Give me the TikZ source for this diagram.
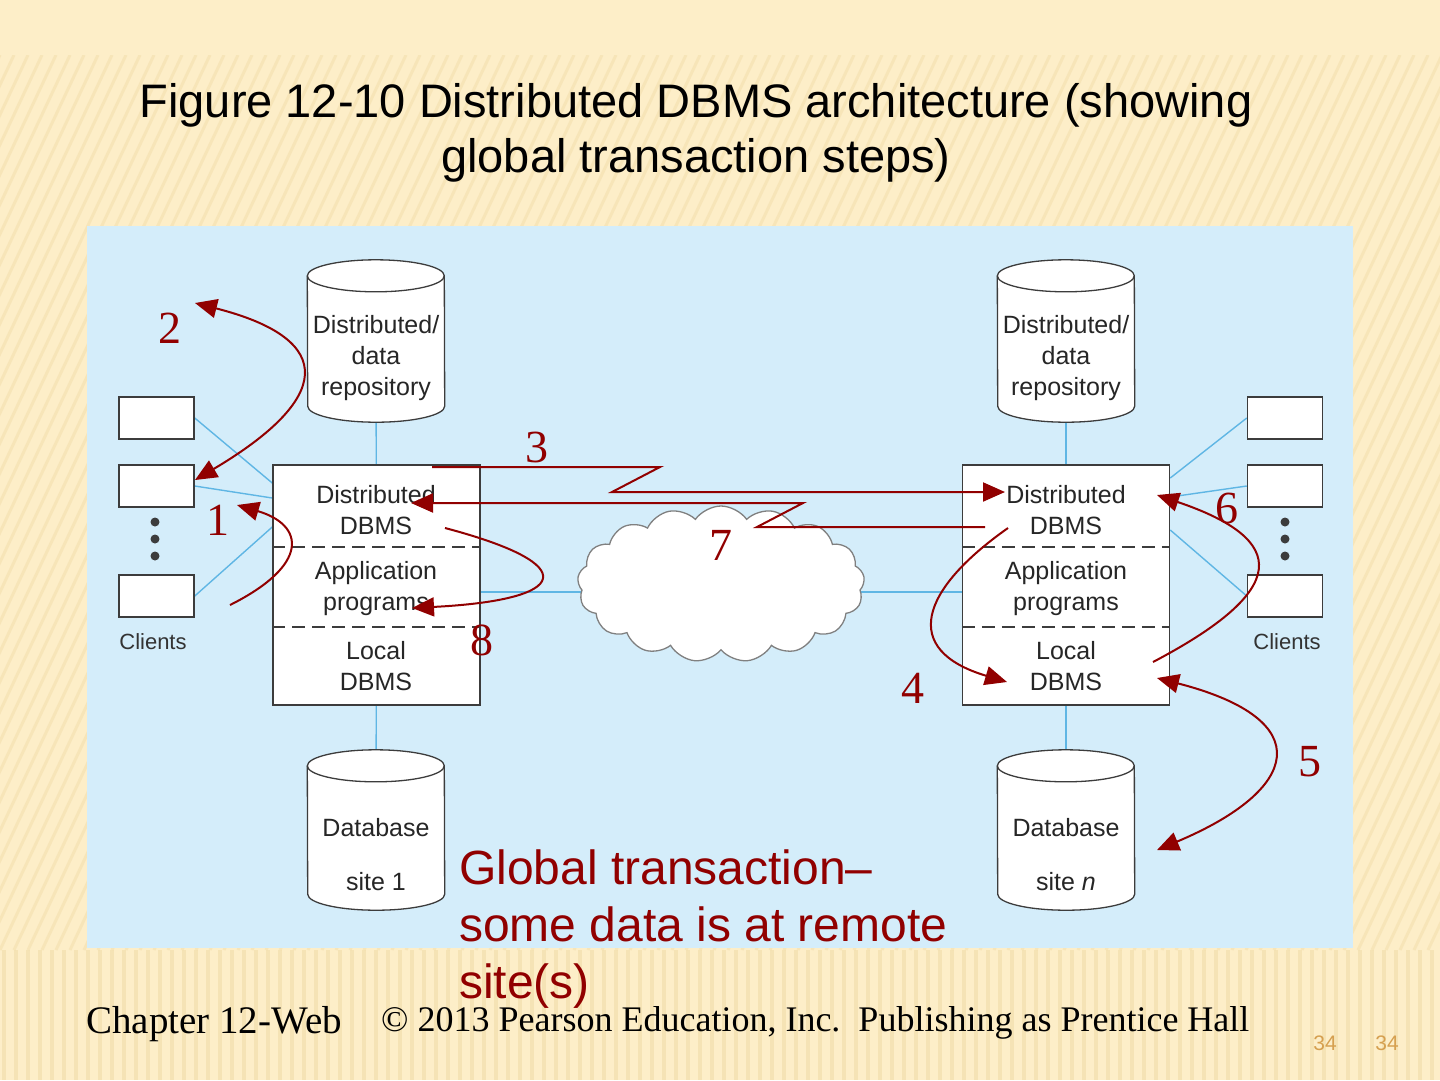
\documentclass[tikz,border=0pt]{standalone}
\usepackage{fontspec}
\setmainfont{Liberation Sans}
\newfontfamily\serifnum{Liberation Serif}
\usetikzlibrary{shapes.symbols,arrows.meta}

\definecolor{panelblue}{RGB}{212,237,250}
\definecolor{linkblue}{RGB}{95,182,228}
\definecolor{stepred}{RGB}{145,0,0}
\definecolor{slidebeige}{RGB}{253,238,200}
\definecolor{stripebeige}{RGB}{240,219,166}
\definecolor{pagenum}{RGB}{214,160,80}
\definecolor{boxgray}{RGB}{60,60,60}

\pgfdeclarelayer{paper}
\pgfdeclarelayer{back}
\pgfsetlayers{paper,back,main}

% a storage drum drawn over the frame of a named node
\newcommand{\drawdrum}[1]{%
  \filldraw[boxgray, fill=white, line width=1.3pt]
    ([yshift=-16pt]#1.north west) arc[start angle=180, end angle=0, x radius=68.5pt, y radius=16pt]
    -- ([yshift=16pt]#1.south east) arc[start angle=0, end angle=-180, x radius=68.5pt, y radius=16pt] -- cycle;
  \draw[boxgray, line width=1.3pt]
    ([yshift=-16pt]#1.north west) arc[start angle=180, end angle=360, x radius=68.5pt, y radius=16pt];
}

\tikzset{
  clientbox/.style={draw=boxgray, fill=white, line width=1.5pt, minimum width=75pt, minimum height=42pt, inner sep=0},
  sitebox/.style={draw=boxgray, fill=white, line width=1.5pt, minimum width=207pt, minimum height=240pt, inner sep=0},
  store/.style={minimum width=137pt, minimum height=#1, inner sep=0},
  layer/.style={align=center, inner sep=0, text=black!85, font=\fontsize{25}{31}\selectfont},
  split/.style={boxgray, line width=1.5pt, dash pattern=on 13pt off 7pt},
  link/.style={linkblue, line width=1.4pt},
  stepline/.style={stepred, line width=2pt, -{Triangle[length=22pt,width=19pt]}},
  steplabel/.style={text=stepred, inner sep=0, font=\serifnum\fontsize{46}{46}\selectfont},
}

\begin{document}
\begin{tikzpicture}[x=1pt, y=-1pt]
\useasboundingbox (0,0) rectangle (1440,1080);

% slide background
\begin{pgfonlayer}{paper}
  \fill[slidebeige] (0,0) rectangle (1440,1080);
  \begin{scope}
    \clip (0,55) rectangle (1440,950);
    \foreach \x in {0,14,...,1900}
      \draw[stripebeige, line width=3pt, opacity=0.45] (\x,55) -- (\x-420,950);
  \end{scope}
  \foreach \x in {4,16,...,1440}
    \draw[stripebeige, line width=4pt, opacity=0.55] (\x,950) -- (\x,1080);
  \fill[panelblue] (87,226) rectangle (1353,948);
\end{pgfonlayer}

% title
\node[align=center, inner sep=0, font=\fontsize{47}{55}\selectfont] (title) at (696,133)
  {Figure 12-10 Distributed DBMS architecture (showing\\global transaction steps)};

% site 1
\node[store=162pt] (ddrL) at (376,341) {};
\drawdrum{ddrL}
\node[layer] (ddrLt) at (376,358) {Distributed/\\data\\repository};
\node[sitebox] (boxL) at (376.5,585) {};
\node[store=160pt] (dbL) at (376,830) {};
\drawdrum{dbL}
\node[layer] (dbLt) at (376,855) {Database\\[23pt]site 1};
\draw[split] (boxL.west |- 0,547) -- (boxL.east |- 0,547);
\draw[split] (boxL.west |- 0,627) -- (boxL.east |- 0,627);
\node[layer] (dL) at (376,510) {Distributed\\DBMS};
\node[layer] (aL) at (376,589) {Application\\programs};
\node[layer] (lL) at (376,666) {Local\\DBMS};

% site n
\node[store=162pt] (ddrR) at (1066,341) {};
\drawdrum{ddrR}
\node[layer] (ddrRt) at (1066,358) {Distributed/\\data\\repository};
\node[sitebox] (boxR) at (1066,585) {};
\node[store=160pt] (dbR) at (1066,830) {};
\drawdrum{dbR}
\node[layer] (dbRt) at (1066,855) {Database\\[23pt]site \textit{n}};
\draw[split] (boxR.west |- 0,547) -- (boxR.east |- 0,547);
\draw[split] (boxR.west |- 0,627) -- (boxR.east |- 0,627);
\node[layer] (dR) at (1066,510) {Distributed\\DBMS};
\node[layer] (aR) at (1066,589) {Application\\programs};
\node[layer] (lR) at (1066,666) {Local\\DBMS};

% network
\node[cloud, cloud puffs=17, cloud puff arc=110, aspect=1.9, draw=gray, fill=white, line width=1.3pt,
  minimum width=287pt, minimum height=156pt] (net) at (721,584) {};

% clients
\node[clientbox] (cL1) at (156.5,418) {};
\node[clientbox] (cL2) at (156.5,486) {};
\node[clientbox] (cL3) at (156.5,596) {};
\node[clientbox] (cR1) at (1285,418) {};
\node[clientbox] (cR2) at (1285,486) {};
\node[clientbox] (cR3) at (1285,596) {};
\foreach \y in {522,539,556} {
  \fill[boxgray] (155,\y) circle (4.5);
  \fill[boxgray] (1285,\y) circle (4.5);
}
\node[inner sep=0, text=black!80, font=\fontsize{22}{22}\selectfont] (cliL) at (153,642) {Clients};
\node[inner sep=0, text=black!80, font=\fontsize{22}{22}\selectfont] (cliR) at (1287,642) {Clients};

% blue links
\begin{pgfonlayer}{back}
  \draw[link] (ddrL) -- (boxL) -- (dbL);
  \draw[link] (ddrR) -- (boxR) -- (dbR);
  \draw[link] (boxL.east |- 0,592) -- (boxR.west |- 0,592);
  \draw[link] (cL1.east) -- (boxL.west |- 0,483);
  \draw[link] (cL2.east) -- (boxL.west |- 0,498);
  \draw[link] (cL3.east) -- (boxL.west |- 0,527);
  \draw[link] (cR1.west) -- (boxR.east |- 0,478);
  \draw[link] (cR2.west) -- (boxR.east |- 0,497);
  \draw[link] (cR3.west) -- (boxR.east |- 0,530);
\end{pgfonlayer}

% transaction steps
\coordinate (s1) at (230,605);
\coordinate (t1) at (237,505);
\coordinate (t2) at (195,303);
\coordinate (t2b) at (195,480);
\coordinate (s3) at (432,467);
\coordinate (t3) at (1005,492);
\coordinate (s4) at (1008,528);
\coordinate (t4) at (1007,682);
\coordinate (t5) at (1157,678);
\coordinate (t5b) at (1157,850);
\coordinate (s6) at (1153,662);
\coordinate (t6) at (1157,495);
\coordinate (s7) at (985,527);
\coordinate (t7) at (411,503);
\coordinate (s8) at (445,528);
\coordinate (t8) at (412,608);

\draw[stepline] (s1) .. controls (310,565) and (305,525) .. (t1);
\draw[stepline, {Triangle[length=22pt,width=19pt]}-{Triangle[length=22pt,width=19pt]}]
  (t2) .. controls (340,340) and (330,400) .. (t2b);
\draw[stepline] (s3) -- (660,467) -- (612,492) -- (t3);
\draw[stepline] (s4) .. controls (920,590) and (900,650) .. (t4);
\draw[stepline, {Triangle[length=22pt,width=19pt]}-{Triangle[length=22pt,width=19pt]}]
  (t5) .. controls (1320,720) and (1300,790) .. (t5b);
\draw[stepline] (s6) .. controls (1290,590) and (1290,540) .. (t6);
\draw[stepline] (s7) -- (757,527) -- (803,503) -- (t7);
\draw[stepline] (s8) .. controls (585,565) and (570,600) .. (t8);

\node[steplabel] (n1) at (218,520) {1};
\node[steplabel] (n2) at (170,328) {2};
\node[steplabel] (n3) at (537,447) {3};
\node[steplabel] (n4) at (913,688) {4};
\node[steplabel] (n5) at (1310,762) {5};
\node[steplabel] (n6) at (1227,508) {6};
\node[steplabel] (n7) at (721,545) {7};
\node[steplabel] (n8) at (482,640) {8};

% note
\node[anchor=north west, align=left, inner sep=0, text=stepred, font=\fontsize{48}{57}\selectfont] (note) at (459,850)
  {Global transaction--\\some data is at remote\\site(s)};

% footer
\node[anchor=base west, inner sep=0, font=\serifnum\fontsize{39}{39}\selectfont] (chap) at (86,1033) {Chapter 12-Web};
\node[anchor=base west, inner sep=0, font=\serifnum\fontsize{36}{36}\selectfont] (copy) at (381,1031)
  {© 2013 Pearson Education, Inc.\ \ Publishing as Prentice Hall};
\node[anchor=base, inner sep=0, text=pagenum, font=\fontsize{21}{21}\selectfont] (pg1) at (1325,1050) {34};
\node[anchor=base, inner sep=0, text=pagenum, font=\fontsize{21}{21}\selectfont] (pg2) at (1387,1050) {34};
\end{tikzpicture}
\end{document}
